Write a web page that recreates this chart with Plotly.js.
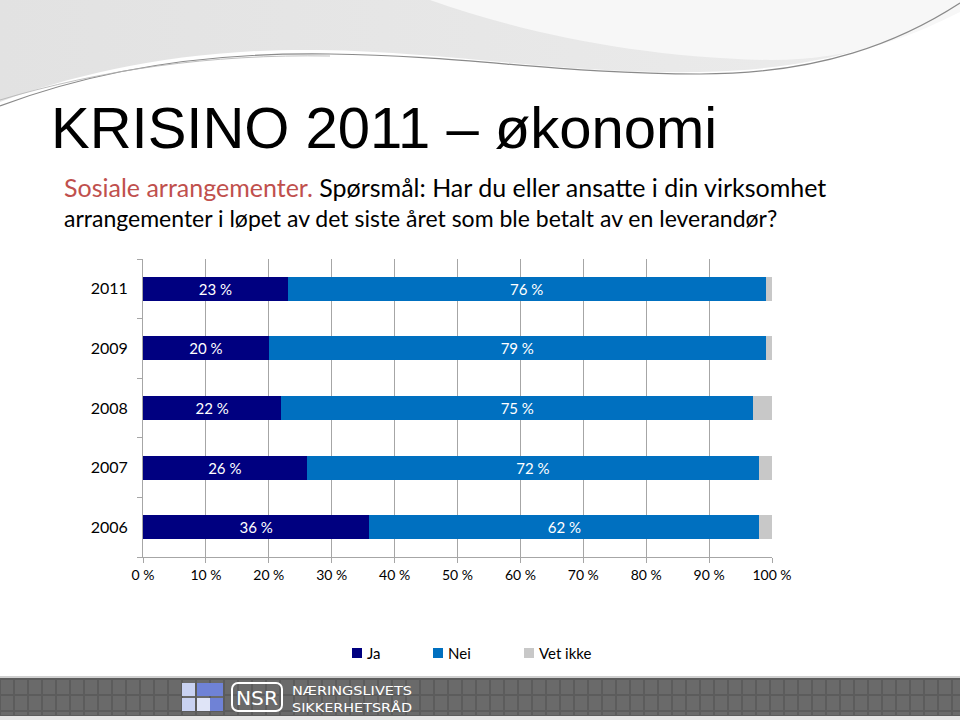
<!DOCTYPE html>
<html>
<head>
<meta charset="utf-8">
<script src="https://cdn.plot.ly/plotly-3.0.1.min.js"></script>
<style>
html,body{margin:0;padding:0;background:#fff;}
#wrap{position:relative;width:960px;height:720px;overflow:hidden;}
#bg{position:absolute;left:0;top:0;}
#chart{position:absolute;left:0;top:0;width:960px;height:720px;}
</style>
</head>
<body>
<div id="wrap">
<svg id="bg" width="960" height="720" xmlns="http://www.w3.org/2000/svg">
  <defs>
    <linearGradient id="g1" x1="0" y1="0" x2="1" y2="0">
      <stop offset="0" stop-color="#e2e2e2"/>
      <stop offset="1" stop-color="#ececec"/>
    </linearGradient>
    <pattern id="sq" width="14" height="16" patternUnits="userSpaceOnUse" x="0" y="679">
      <rect x="1" y="1" width="12" height="14" fill="#6a6a6a"/>
    </pattern>
  </defs>
  <path d="M0,0 L960,0 L960,6 C880,52 800,70 700,72 C560,74 450,52 320,50 C190,48 80,72 0,102 Z" fill="url(#g1)"/>
  <path d="M430,0 C520,32 640,58 770,60 C860,60 920,32 960,12 L960,0 Z" fill="#f7f7f7"/>
  <path d="M0,106 C90,72 200,52 330,54 C470,56 560,74 700,74 C820,74 900,42 960,3" fill="none" stroke="#8a8a8a" stroke-width="1.2"/>
  <path d="M0,100 C100,70 210,54 330,56" fill="none" stroke="#b0b0b0" stroke-width="0.8"/>
  <rect x="0" y="676" width="960" height="2" fill="#cfcfcf"/>
  <rect x="0" y="678" width="960" height="38" fill="#5c5c5c"/>
  <rect x="0" y="679" width="960" height="36" fill="url(#sq)"/>
  <rect x="0" y="716" width="960" height="4" fill="#e6e6e6"/>
  <rect x="182" y="683" width="13" height="13" fill="#c9d2f2"/>
  <rect x="197" y="683" width="13" height="13" fill="#6f82d6"/>
  <rect x="210" y="683" width="13" height="13" fill="#6f82d6"/>
  <rect x="182" y="698" width="13" height="13" fill="#c9d2f2"/>
  <rect x="197" y="698" width="13" height="13" fill="#dfe4f7"/>
  <rect x="210" y="698" width="13" height="13" fill="#6f82d6"/>
  <rect x="232" y="683" width="50" height="28" rx="6" fill="none" stroke="#ffffff" stroke-width="2"/>
  <text x="257" y="705" fill="#ffffff" font-family="Liberation Sans Narrow, DejaVu Sans Condensed, Arial" font-size="20" text-anchor="middle" textLength="42" lengthAdjust="spacingAndGlyphs">NSR</text>
  <text x="292" y="695" fill="#ffffff" font-family="Liberation Sans Narrow, DejaVu Sans Condensed, Arial" font-size="13" textLength="120" lengthAdjust="spacingAndGlyphs">NÆRINGSLIVETS</text>
  <text x="292" y="712" fill="#ffffff" font-family="Liberation Sans Narrow, DejaVu Sans Condensed, Arial" font-size="13" textLength="120" lengthAdjust="spacingAndGlyphs">SIKKERHETSRÅD</text>
</svg>
<div id="chart"></div>
</div>
<script>
// ---- data ----
const years = ['2006', '2007', '2008', '2009', '2011'];
const ja = [36, 26, 22, 20, 23];
const nei = [62, 72, 75, 79, 76];
const vetIkke = [2, 2, 3, 1, 1];
const seriesNames = ['Ja', 'Nei', 'Vet ikke'];
const seriesColors = ['#000080', '#0070C0', '#C8C8C8'];
const xTickVals = [0, 10, 20, 30, 40, 50, 60, 70, 80, 90, 100];
const xTickText = ['0 %', '10 %', '20 %', '30 %', '40 %', '50 %', '60 %', '70 %', '80 %', '90 %', '100 %'];

// ---- layout helpers ----
const W = 960, H = 720;
const L = 143, R = 772, T = 259, B = 557;
const px = x => (x - L) / (R - L);
const py = y => (B - y) / (B - T);
const FONT = 'Lato, "Open Sans", sans-serif';
const pct = arr => arr.map(v => v + ' %');

const traces = [
  {name: seriesNames[0], x: ja, y: years, marker: {color: seriesColors[0]},
   text: pct(ja), textposition: 'inside', insidetextanchor: 'middle'},
  {name: seriesNames[1], x: nei, y: years, marker: {color: seriesColors[1]},
   text: pct(nei), textposition: 'inside', insidetextanchor: 'middle'},
  {name: seriesNames[2], x: vetIkke, y: years, marker: {color: seriesColors[2]},
   textposition: 'none'}
].map(t => Object.assign({type: 'bar', orientation: 'h', hoverinfo: 'skip', textinfo: 'text',
  textfont: {family: FONT, size: 15, color: '#ffffff'}, constraintext: 'none'}, t));

// custom legend (positions only; colours/names from the series constants)
const legX = [352, 433, 524];
const legY = 653;
const legendShapes = seriesNames.map((n, i) => ({
  type: 'rect', xref: 'paper', yref: 'paper', layer: 'above',
  x0: px(legX[i]), x1: px(legX[i] + 10), y0: py(legY + 5), y1: py(legY - 5),
  fillcolor: seriesColors[i], line: {width: 0}
}));
const legendTexts = seriesNames.map((n, i) => ({
  text: n, xref: 'paper', yref: 'paper', x: px(legX[i] + 13), y: py(legY),
  xanchor: 'left', yanchor: 'middle', showarrow: false,
  font: {family: FONT, size: 15, color: '#000'}
}));

const layout = {
  width: W, height: H,
  margin: {l: L, r: W - R, t: T, b: H - B, pad: 0},
  paper_bgcolor: 'rgba(0,0,0,0)', plot_bgcolor: 'rgba(0,0,0,0)',
  barmode: 'stack', bargap: 0.6,
  font: {family: FONT, color: '#000'},
  showlegend: false,
  xaxis: {range: [0, 100], tickvals: xTickVals, ticktext: xTickText,
    showgrid: true, gridcolor: '#A6A6A6', gridwidth: 1,
    showline: true, linecolor: '#A6A6A6', linewidth: 1,
    ticks: 'outside', ticklen: 5, tickcolor: '#A6A6A6', zeroline: false,
    tickfont: {family: FONT, size: 14, color: '#000'}, fixedrange: true},
  yaxis: {type: 'category', categoryorder: 'array', categoryarray: years,
    showline: true, linecolor: '#A6A6A6', linewidth: 1,
    ticks: 'outside', tickson: 'boundaries', ticklen: 5, tickcolor: '#A6A6A6',
    showgrid: false, zeroline: false, ticklabelstandoff: 11,
    tickfont: {family: FONT, size: 16, color: '#000'}, fixedrange: true},
  shapes: legendShapes,
  annotations: [
    {text: 'KRISINO 2011 – økonomi', xref: 'paper', yref: 'paper', x: px(49), y: py(127),
     xanchor: 'left', yanchor: 'middle', showarrow: false,
     font: {family: '"Liberation Sans", Arial, sans-serif', size: 58, color: '#000'}},
    {text: '<span style="color:#C0504D">Sosiale arrangementer.</span> Spørsmål: Har du eller ansatte i din virksomhet',
     xref: 'paper', yref: 'paper', x: px(62), y: py(187), xanchor: 'left', yanchor: 'middle', showarrow: false,
     font: {family: FONT, size: 25, color: '#000'}},
    {text: 'arrangementer i løpet av det siste året som ble betalt av en leverandør?',
     xref: 'paper', yref: 'paper', x: px(62), y: py(218), xanchor: 'left', yanchor: 'middle', showarrow: false,
     font: {family: FONT, size: 23, color: '#000'}}
  ].concat(legendTexts)
};

Plotly.newPlot('chart', traces, layout, {staticPlot: true, displayModeBar: false});
</script>
</body>
</html>
